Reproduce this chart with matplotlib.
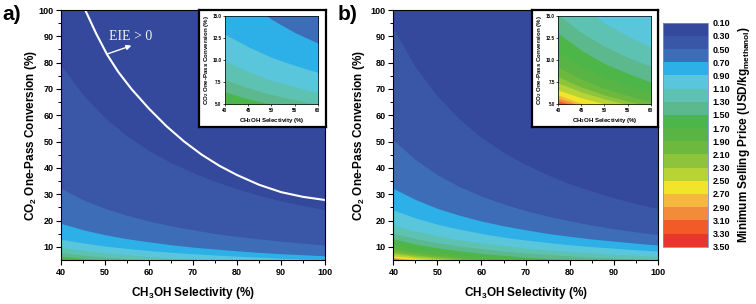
import numpy as np
import matplotlib
matplotlib.use('Agg')
import matplotlib.pyplot as plt
from matplotlib.colors import ListedColormap, BoundaryNorm
from matplotlib.cm import ScalarMappable

# CH3OH selectivity (%) where the contour positions were read
selectivity = [40, 45, 50, 55, 60, 65, 70, 75, 80, 85, 90, 95, 100]

# colour bar boundaries (USD/kg methanol)
price_levels = [0.10, 0.30, 0.50, 0.70, 0.90, 1.10, 1.30, 1.50, 1.70,
                1.90, 2.10, 2.30, 2.50, 2.70, 2.90, 3.10, 3.30, 3.50]

# a) CO2 one-pass conversion (%) of each price contour
levels_a = [0.3, 0.5, 0.7, 0.9, 1.1, 1.3, 1.5]
conv_a = [
    [79.0, 67.8, 59.1, 52.2, 46.6, 42.0, 38.2, 34.9, 32.1, 29.6, 27.5, 25.7, 24.0],
    [32.2, 27.9, 24.6, 22.0, 19.8, 18.0, 16.5, 15.1, 14.0, 13.0, 12.2, 11.4, 10.7],
    [18.9, 16.5, 14.6, 13.1, 11.9, 10.8, 9.9, 9.2, 8.5, 7.9, 7.4, 7.0, 6.6],
    [12.9, 11.5, 10.3, 9.4, 8.6, 7.95, 7.4, 6.9, 6.45, 6.1, 5.7, 5.45, 5.2],
    [9.9, 8.7, 7.7, 7.0, 6.3, 5.8, 5.3, 4.96, 4.6, 4.3, 4.1, 3.8, 3.6],
    [7.8, 6.85, 6.1, 5.5, 5.0, 4.6, 4.2, 3.9, 3.6, 3.4, 3.2, 3.0, 2.85],
    [6.4, 5.6, 5.0, 4.5, 4.1, 3.75, 3.5, 3.2, 3.0, 2.8, 2.6, 2.5, 2.3],
]

# b) CO2 one-pass conversion (%) of each price contour
levels_b = [0.3, 0.5, 0.7, 0.9, 1.1, 1.3, 1.5, 1.7, 1.9, 2.1, 2.3, 2.5, 2.7, 2.9, 3.1, 3.3]
conv_b = [
    [93.0, 78.4, 67.3, 58.6, 51.6, 46.0, 41.3, 37.4, 34.0, 31.2, 28.7, 26.5, 24.6],
    [50.6, 43.2, 37.4, 32.9, 29.3, 26.3, 23.8, 21.7, 19.9, 18.3, 16.9, 15.7, 14.7],
    [32.2, 28.0, 24.6, 22.0, 19.8, 18.0, 16.5, 15.1, 14.0, 13.0, 12.2, 11.4, 10.7],
    [24.0, 21.0, 18.6, 16.7, 15.1, 13.7, 12.6, 11.65, 10.8, 10.1, 9.5, 8.9, 8.4],
    [18.3, 16.0, 14.2, 12.7, 11.5, 10.5, 9.6, 8.9, 8.25, 7.7, 7.2, 6.8, 6.4],
    [15.1, 13.1, 11.55, 10.3, 9.3, 8.4, 7.7, 7.1, 6.6, 6.1, 5.7, 5.35, 5.0],
    [13.0, 11.1, 9.6, 8.5, 7.5, 6.75, 6.1, 5.55, 5.1, 4.7, 4.35, 4.05, 3.8],
    [10.9, 9.3, 8.1, 7.1, 6.3, 5.66, 5.1, 4.67, 4.3, 3.94, 3.6, 3.39, 3.2],
    [9.2, 7.85, 6.8, 6.0, 5.3, 4.78, 4.3, 3.94, 3.6, 3.33, 3.1, 2.86, 2.7],
    [8.1, 6.95, 6.06, 5.35, 4.8, 4.31, 3.9, 3.58, 3.3, 3.04, 2.8, 2.63, 2.5],
    [7.4, 6.4, 5.6, 4.97, 4.45, 4.03, 3.7, 3.37, 3.1, 2.89, 2.7, 2.51, 2.35],
    [6.6, 5.73, 5.05, 4.5, 4.06, 3.69, 3.4, 3.1, 2.9, 2.67, 2.5, 2.34, 2.2],
    [6.05, 5.1, 4.38, 3.81, 3.36, 2.99, 2.69, 2.43, 2.21, 2.03, 1.87, 1.73, 1.6],
    [5.7, 4.83, 4.17, 3.65, 3.23, 2.89, 2.6, 2.36, 2.16, 1.98, 1.83, 1.7, 1.58],
    [5.4, 4.58, 3.95, 3.46, 3.06, 2.74, 2.47, 2.24, 2.05, 1.88, 1.73, 1.61, 1.5],
    [5.15, 4.37, 3.77, 3.3, 2.92, 2.61, 2.35, 2.14, 1.95, 1.79, 1.65, 1.53, 1.43],
]

# EIE = 0 boundary in panel a)
eie_sel = [45.5, 48, 50.5, 53, 56, 60, 64, 68, 72, 76, 80, 85, 90, 95, 100]
eie_conv = [100, 91, 83, 76.5, 70, 62.5, 55.8, 50, 45, 40.8, 37.3, 33.6, 30.8, 29, 27.8]

band_colors = ['#34489c', '#3a56a6', '#3d6db6', '#2db0e8', '#5ac6dc', '#5dc2b2',
               '#5bb98d', '#4cb649', '#57b445', '#6cb93e', '#8ec43b', '#b7d334',
               '#f1e42a', '#f5b73d', '#f28c3a', '#f25a28', '#e7372b']

plt.rcParams['font.family'] = ['Liberation Sans', 'DejaVu Sans']
plt.rcParams['font.weight'] = 'bold'
plt.rcParams['axes.labelweight'] = 'bold'
plt.rcParams['mathtext.default'] = 'regular'

SEL_LABEL = 'CH$_3$OH Selectivity (%)'
CONV_LABEL = 'CO$_2$ One-Pass Conversion (%)'


def draw_map(ax, levels, lines):
    # painter's order: lowest price band as background, then each contour down to the floor
    lv = np.array(price_levels)
    first = int(np.argmin(abs(lv - levels[0])))
    ax.set_facecolor(band_colors[first - 1])
    for lev, conv in zip(levels, lines):
        i = int(np.argmin(abs(lv - lev)))
        ax.fill_between(selectivity, 0, conv, color=band_colors[i], lw=0)


def main_panel(rect, levels, lines, ylab_x):
    ax = fig.add_axes(rect)
    draw_map(ax, levels, lines)
    ax.set_xlim(40, 100)
    ax.set_ylim(5, 100)
    ax.set_xticks(range(40, 101, 10))
    ax.set_xticks(range(45, 100, 10), minor=True)
    ax.set_yticks(range(10, 101, 10))
    ax.set_yticks(range(15, 100, 10), minor=True)
    ax.tick_params(direction='out', length=3.5, width=0.8, labelsize=6.5, pad=2)
    ax.tick_params(which='minor', direction='out', length=2, width=0.7)
    for s in ax.spines.values():
        s.set_linewidth(0.8)
    ax.set_xlabel(SEL_LABEL, fontsize=8.5)
    ax.set_ylabel(CONV_LABEL, fontsize=8.5)
    ax.xaxis.set_label_coords(0.5, -0.10)
    ax.yaxis.set_label_coords(ylab_x, 0.5)
    return ax


def inset_panel(frame_rect, rect, levels, lines):
    fr = fig.add_axes(frame_rect)
    fr.set_xticks([])
    fr.set_yticks([])
    fr.set_facecolor('white')
    for s in fr.spines.values():
        s.set_linewidth(1.6)
    ax = fig.add_axes(rect)
    draw_map(ax, levels, lines)
    ax.set_xlim(40, 60)
    ax.set_ylim(5, 15)
    ax.set_xticks([40, 45, 50, 55, 60])
    ax.set_yticks([5, 7.5, 10, 12.5, 15])
    ax.set_yticklabels(['5.0', '7.5', '10.0', '12.5', '15.0'])
    ax.tick_params(direction='out', length=1.5, width=0.5, labelsize=3.3, pad=1)
    for s in ax.spines.values():
        s.set_linewidth(0.5)
    ax.set_xlabel(SEL_LABEL, fontsize=4.4)
    ax.set_ylabel(CONV_LABEL, fontsize=4.4)
    ax.xaxis.set_label_coords(0.5, -0.135)
    ax.yaxis.set_label_coords(-0.15, 0.5)
    return ax


fig = plt.figure(figsize=(7.56, 3.04), dpi=100)

ax_a = main_panel([0.0807, 0.1447, 0.3492, 0.8224], levels_a, conv_a, -0.085)
ax_a.plot(eie_sel, eie_conv, color='white', lw=1.5)
ax_a.annotate('', xy=(56.6, 86.8), xytext=(50, 83),
              arrowprops=dict(arrowstyle='-|>', color='white', lw=1, mutation_scale=7))
ax_a.text(55.8, 89.8, 'EIE > 0', color='#f2f2f2', fontsize=10,
          family='Liberation Serif', weight='normal', ha='center', va='center')

ax_b = main_panel([0.5203, 0.1447, 0.3497, 0.8224], levels_b, conv_b, -0.10)

inset_panel([0.2632, 0.5822, 0.168, 0.3849], [0.2976, 0.6569, 0.1230, 0.2914], levels_a, conv_a)
inset_panel([0.7033, 0.5822, 0.1667, 0.3849], [0.7385, 0.6569, 0.1222, 0.2914], levels_b, conv_b)

# colour bar
cax = fig.add_axes([0.8774, 0.1885, 0.0595, 0.7368])
cmap = ListedColormap(band_colors)
norm = BoundaryNorm(price_levels, cmap.N)
cb = fig.colorbar(ScalarMappable(norm=norm, cmap=cmap), cax=cax, ticks=price_levels)
cax.invert_yaxis()
cb.ax.set_yticklabels(['%.2f' % v for v in price_levels])
cb.ax.tick_params(length=0, labelsize=6.5, pad=3)
cb.outline.set_linewidth(0.6)
cb.outline.set_edgecolor('#7f8fc8')
cb.set_label('Minimum Selling Price (USD/kg$_{methanol}$)', fontsize=8.5, labelpad=4)

fig.text(0.003, 0.985, 'a)', fontsize=15, weight='bold', va='top', ha='left')
fig.text(0.446, 0.985, 'b)', fontsize=15, weight='bold', va='top', ha='left')

fig.savefig('out.png', dpi=100)
